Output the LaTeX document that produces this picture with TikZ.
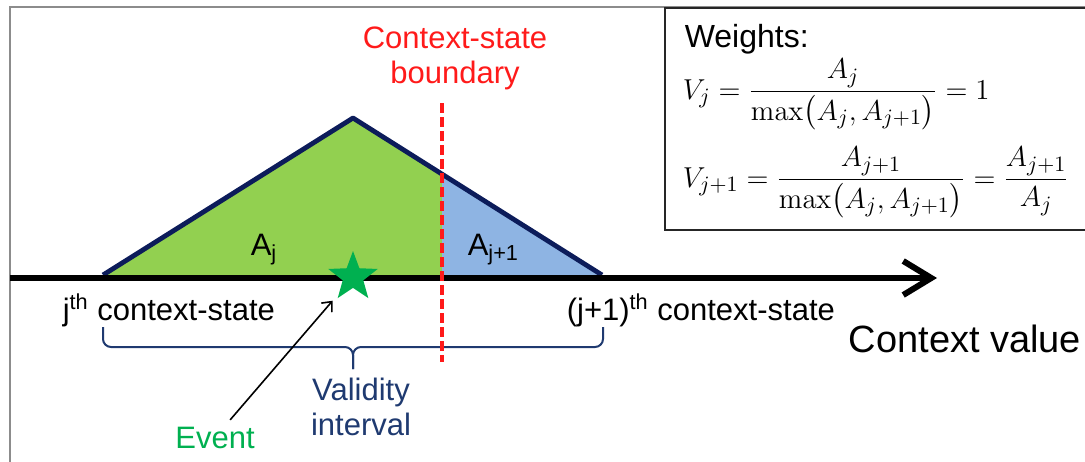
\documentclass[tikz,border=0pt]{standalone}
\usepackage{amsmath}
\usepackage[no-math]{fontspec}
\setmainfont{Liberation Sans}
\usepackage{xcolor}
\usepackage{tikz}
\usetikzlibrary{arrows.meta, positioning, shapes.geometric}
\definecolor{AreaGreen}{HTML}{92D050}
\definecolor{AreaBlue}{HTML}{8EB4E3}
\definecolor{OutlineNavy}{HTML}{0C1C5A}
\definecolor{BoundaryRed}{HTML}{FF1A1A}
\definecolor{EventGreen}{HTML}{00B050}
\definecolor{ValidBlue}{HTML}{1F3A70}
\definecolor{FrameGray}{HTML}{8C8C8C}

\begin{document}
\begin{tikzpicture}[x=0.5pt, y=-0.5pt, thick,
    txt/.style={inner sep=0pt, font=\fontsize{15.5}{17.5}\selectfont},
    eqn/.style={inner sep=0pt, anchor=base west, font=\fontsize{15}{18}\selectfont}]
        \useasboundingbox (0,0) rectangle (1085,461);
        \clip (0,0) rectangle (1085,461);

        % Frame and weights box
        \draw[FrameGray, line width=1pt] (1100,7) -- (10,7) -- (10,470);
        \draw[black!85, line width=1pt] (665,8) rectangle (1100,230);

        % Area under the triangle
        \coordinate (jbase) at (103,275);
        \coordinate (peak) at (353,118);
        \coordinate (cut) at (442,174.5);
        \coordinate (cutbase) at (442,275);
        \coordinate (jnbase) at (602,275);
        \fill[AreaGreen] (jbase) -- (peak) -- (cut) -- (cutbase) -- cycle;
        \fill[AreaBlue] (cut) -- (jnbase) -- (cutbase) -- cycle;
        \draw[OutlineNavy, line width=2.4pt, line join=round] (jbase) -- (peak) -- (jnbase);

        % Axis
        \coordinate (axisstart) at (10,278);
        \coordinate (axisend) at (937,278);
        \draw[-{Straight Barb[length=14pt, width=17pt]}, line width=3pt] (axisstart) -- (axisend);

        % Nodes
        \node[txt, anchor=base west] (aj) at (250,255) {A\textsubscript{j}};
        \node[txt, anchor=base west] (ajn) at (467,255) {A\textsubscript{j+1}};
        \node[shape=star, star points=5, star point ratio=2.4, minimum size=26pt, inner sep=0pt, fill=EventGreen] (star) at (353,277) {};
        \node[txt, anchor=base west] (jstate) at (62,320) {j\textsuperscript{th} context-state};
        \node[txt, anchor=base west] (jnstate) at (566,320) {(j+1)\textsuperscript{th} context-state};
        \node[txt, anchor=base west, font=\fontsize{19}{22}\selectfont] (ctxvalue) at (848,352) {Context value};
        \node[txt, align=center, text=BoundaryRed] (boundlabel) at (455,58) {Context-state\\boundary};
        \node[txt, align=center, text=ValidBlue] (validity) at (361,407) {Validity\\interval};
        \node[txt, anchor=base, inner sep=3pt, text=EventGreen] (event) at (215,448) {Event};

        % Weights
        \node[txt, anchor=base west, font=\fontsize{16}{19}\selectfont] (weights) at (684,47) {Weights:};
        \node[eqn] (vj) at (682,99) {$\displaystyle V_j = \frac{A_j}{\max\bigl(A_j, A_{j+1}\bigr)} = 1$};
        \node[eqn] (vjn) at (682,187) {$\displaystyle V_{j+1} = \frac{A_{j+1}}{\max\bigl(A_j, A_{j+1}\bigr)} = \frac{A_{j+1}}{A_j}$};

        % Validity brace
        \draw[ValidBlue, line width=1pt, rounded corners=4pt] (103,327) |- (353,347) -- (353,369);
        \draw[ValidBlue, line width=1pt, rounded corners=4pt] (603,327) |- (353,347) -- (353,369);

        % Arrows
        \draw[-{Straight Barb[length=4pt, width=7pt]}, line width=0.8pt, shorten >=4pt] (event) -- (star);

        % Context-state boundary
        \coordinate (boundtop) at (442,103);
        \coordinate (boundbottom) at (442,362);
        \draw[BoundaryRed, line width=2pt, dash pattern=on 5pt off 2pt] (boundtop) -- (boundbottom);
    \end{tikzpicture}
\end{document}
